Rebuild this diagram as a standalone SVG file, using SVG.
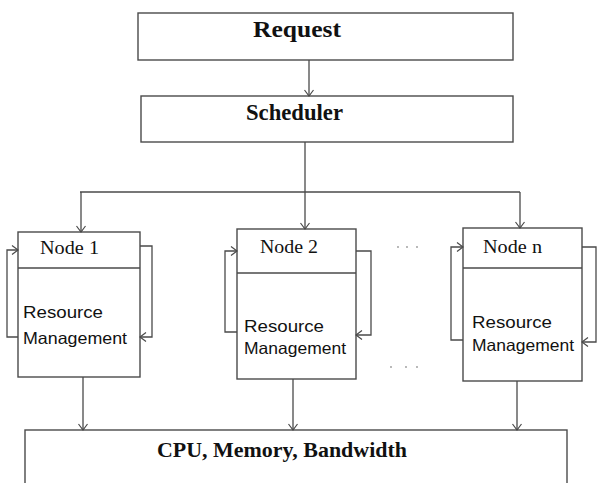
<svg xmlns="http://www.w3.org/2000/svg" width="598" height="483" viewBox="0 0 598 483">
<style>
.box{fill:#fff;stroke:#4a4a4a;stroke-width:1.4}
.ln{fill:none;stroke:#4a4a4a;stroke-width:1.3}
.hd{font-family:"Liberation Serif","Times New Roman",serif;font-weight:bold;fill:#111}
.nt{font-family:"Liberation Serif","Times New Roman",serif;font-size:19px;fill:#111}
.rm{font-family:"Liberation Sans",Arial,sans-serif;font-size:16.5px;fill:#111}
.dot{fill:#999}
</style>
<defs>
<marker id="ah" markerUnits="userSpaceOnUse" markerWidth="10" markerHeight="10" viewBox="0 0 10 10" refX="8" refY="5" orient="auto">
<path d="M2,0.5 L8,5 L2,9.5" fill="none" stroke="#4a4a4a" stroke-width="1.2"/>
</marker>
</defs>

<g id="request">
<rect class="box" x="138" y="13" width="375" height="47"/>
<text class="hd" x="253" y="37" font-size="24" textLength="88" lengthAdjust="spacingAndGlyphs">Request</text>
</g>

<g id="scheduler">
<rect class="box" x="141" y="96" width="372" height="46"/>
<text class="hd" x="246" y="120" font-size="23" textLength="97" lengthAdjust="spacingAndGlyphs">Scheduler</text>
</g>

<g id="node1">
<rect class="box" x="18" y="232" width="122" height="145"/>
<line class="ln" x1="18" y1="268" x2="140" y2="268"/>
<text class="nt" x="40" y="254" textLength="59" lengthAdjust="spacingAndGlyphs">Node 1</text>
<text class="rm" x="23" y="318" textLength="80" lengthAdjust="spacingAndGlyphs">Resource</text>
<text class="rm" x="23" y="344" textLength="104" lengthAdjust="spacingAndGlyphs">Management</text>
</g>

<g id="node2">
<rect class="box" x="237" y="229" width="119" height="150"/>
<line class="ln" x1="237" y1="273" x2="356" y2="273"/>
<text class="nt" x="260" y="253" textLength="58" lengthAdjust="spacingAndGlyphs">Node 2</text>
<text class="rm" x="244" y="332" textLength="80" lengthAdjust="spacingAndGlyphs">Resource</text>
<text class="rm" x="244" y="354" textLength="102" lengthAdjust="spacingAndGlyphs">Management</text>
</g>

<g id="noden">
<rect class="box" x="463" y="228" width="119" height="153"/>
<line class="ln" x1="463" y1="268" x2="582" y2="268"/>
<text class="nt" x="483" y="253" textLength="59" lengthAdjust="spacingAndGlyphs">Node n</text>
<text class="rm" x="472" y="328" textLength="80" lengthAdjust="spacingAndGlyphs">Resource</text>
<text class="rm" x="472" y="351" textLength="102" lengthAdjust="spacingAndGlyphs">Management</text>
</g>

<g id="resources">
<rect class="box" x="25" y="430" width="542" height="70"/>
<text class="hd" x="157" y="457" font-size="21" textLength="250" lengthAdjust="spacingAndGlyphs">CPU, Memory, Bandwidth</text>
</g>

<g id="ellipsis">
<circle class="dot" cx="398" cy="247" r="0.9"/>
<circle class="dot" cx="407" cy="247" r="0.9"/>
<circle class="dot" cx="417" cy="247" r="0.9"/>
<circle class="dot" cx="391" cy="367" r="0.9"/>
<circle class="dot" cx="406" cy="367" r="0.9"/>
<circle class="dot" cx="417" cy="367" r="0.9"/>
</g>

<g id="connectors">
<line class="ln" x1="309" y1="60" x2="309" y2="96" marker-end="url(#ah)"/>
<line class="ln" x1="305" y1="142" x2="305" y2="192"/>
<line class="ln" x1="80" y1="192" x2="520" y2="192"/>
<line class="ln" x1="81" y1="192" x2="81" y2="232" marker-end="url(#ah)"/>
<line class="ln" x1="305" y1="192" x2="305" y2="229" marker-end="url(#ah)"/>
<line class="ln" x1="520" y1="192" x2="520" y2="228" marker-end="url(#ah)"/>

<polyline class="ln" points="18,337 7,337 7,250 18,250" marker-end="url(#ah)"/>
<polyline class="ln" points="140,246 152,246 152,337 140,337" marker-end="url(#ah)"/>
<polyline class="ln" points="237,332 225,332 225,251 237,251" marker-end="url(#ah)"/>
<polyline class="ln" points="356,251 371,251 371,335 356,335" marker-end="url(#ah)"/>
<polyline class="ln" points="463,340 451,340 451,247 463,247" marker-end="url(#ah)"/>
<polyline class="ln" points="582,247 596,247 596,342 582,342" marker-end="url(#ah)"/>

<line class="ln" x1="83" y1="377" x2="83" y2="430" marker-end="url(#ah)"/>
<line class="ln" x1="293" y1="379" x2="293" y2="430" marker-end="url(#ah)"/>
<line class="ln" x1="517" y1="381" x2="517" y2="430" marker-end="url(#ah)"/>
</g>
</svg>
